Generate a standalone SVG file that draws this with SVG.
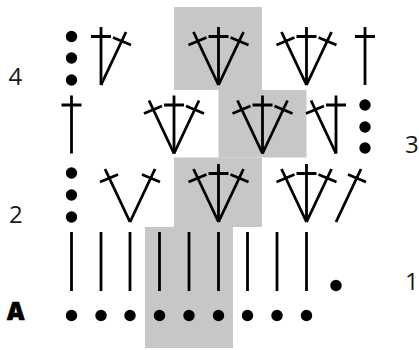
<svg xmlns="http://www.w3.org/2000/svg" width="419" height="350" viewBox="0 0 419 350">
<style>
.g{fill:#c6c8c7}
.s{stroke:#000;stroke-width:2.8;fill:none;stroke-linecap:butt}
.d{fill:#000}
text{font-family:"Open Sans","Noto Sans",sans-serif;font-size:24px;fill:#1a1a1a}
.b{font-weight:800;font-size:24px;fill:#000;stroke:#000;stroke-width:.7}
</style>
<defs>
<path id="st" class="s" d="M0 0V-58M-10 -48.5H10"/>
<path id="ra" class="s" d="M0 0L25 -53M12 -47.500L30 -40"/>
<path id="la" class="s" d="M0 0L-25 -53M-12 -47.500L-30 -40"/>
<g id="trio"><use href="#st"/><use href="#ra"/><use href="#la"/></g>
<circle id="dot" class="d" r="5.700"/>
<path id="ch" class="s" d="M0 0V59"/>
</defs>
<rect class="g" x="174" y="7" width="88" height="83"/>
<rect class="g" x="218.500" y="90" width="88" height="67.500"/>
<rect class="g" x="174" y="157.500" width="88" height="69.500"/>
<rect class="g" x="145" y="227" width="88" height="121"/>
<g id="row4">
<use href="#dot" x="71.500" y="36.500"/><use href="#dot" x="71.500" y="58"/><use href="#dot" x="71.500" y="80"/>
<use href="#st" x="101" y="85"/><use href="#ra" x="101" y="85"/>
<use href="#trio" x="218.500" y="85"/><use href="#trio" x="306.500" y="85"/>
<use href="#st" x="365" y="85"/>
</g>
<g id="row3">
<use href="#st" x="71.500" y="153.500"/>
<use href="#trio" x="174" y="153.500"/><use href="#trio" x="262.500" y="153.500"/>
<use href="#st" x="336" y="153.500"/><use href="#la" x="336" y="153.500"/>
<use href="#dot" x="365" y="105"/><use href="#dot" x="365" y="127"/><use href="#dot" x="365" y="148"/>
</g>
<g id="row2">
<use href="#dot" x="71.500" y="173"/><use href="#dot" x="71.500" y="195"/><use href="#dot" x="71.500" y="217"/>
<use href="#ra" x="130" y="222"/><use href="#la" x="130" y="222"/>
<use href="#trio" x="218.500" y="222"/><use href="#trio" x="306.500" y="222"/>
<use href="#ra" x="336" y="222"/>
</g>
<g id="row1">
<use href="#ch" x="71.500" y="232"/><use href="#ch" x="101" y="232"/><use href="#ch" x="130" y="232"/><use href="#ch" x="159.500" y="232"/><use href="#ch" x="189" y="232"/><use href="#ch" x="218.500" y="232"/><use href="#ch" x="247.500" y="232"/><use href="#ch" x="277" y="232"/><use href="#ch" x="306.500" y="232"/>
<use href="#dot" x="336" y="285.500"/>
</g>
<g id="rowA">
<use href="#dot" x="71.500" y="315.500"/><use href="#dot" x="101" y="315.500"/><use href="#dot" x="130" y="315.500"/><use href="#dot" x="159.500" y="315.500"/><use href="#dot" x="189" y="315.500"/><use href="#dot" x="218.500" y="315.500"/><use href="#dot" x="247.500" y="315.500"/><use href="#dot" x="277" y="315.500"/><use href="#dot" x="306.500" y="315.500"/>
</g>
<g id="labels">
<text x="8.500" y="85">4</text>
<text x="405" y="153">3</text>
<text x="9" y="223">2</text>
<text x="405" y="290">1</text>
<text class="b" x="7" y="320">A</text>
</g>
</svg>
